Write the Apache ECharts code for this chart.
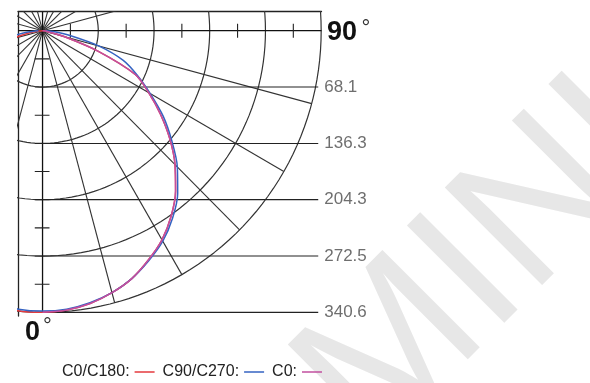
<!DOCTYPE html>
<html><head><meta charset="utf-8">
<script src="https://cdn.jsdelivr.net/npm/echarts@6/dist/echarts.min.js"></script>
<style>html,body{margin:0;padding:0;background:#fff}#c{width:590px;height:383px}</style>
</head><body><div id="c"></div>
<script>
// ---- data (intensity in cd, angle in degrees; 0 = straight down, 90 = horizontal) ----
const angles = [-90,-85,-80,-75,-70,-65,-60,-55,-50,-45,-40,-35,-30,-25,-20,-15,-10,-5,0,5,10,15,20,25,30,35,40,45,50,55,60,65,70,75,80,85,90];
const c0c180 = [0,4,18,40,80,125,150,176,203,229,253,274,292,306,319,328,335,340,340.6,339,335,328,319,306,292,274,253,229,203,176,150,125,72,28,7,2,0];
const c90c270 = [5,18,36,71,105,128,152,180,206,233,257,277,294,307,319,328,334,338,339,338,334,328,319,307,294,277,257,233,206,180,152,128,105,71,35,15,4];
const c0Angles = [0,5,10,15,20,25,30,35,40,45,50,55,60,65,70,75,80,85,90];
const c0 = [340.6,339,335,328,319,306,292,274,253,229,203,176,150,125,72,28,7,2,0];
const ringValues = [68.1,136.3,204.3,272.5,340.6];
const ringLabels = ['68.1','136.3','204.3','272.5','340.6'];
const spokeStep = 15;
const legendNames = ['C0/C180','C90/C270','C0'];
const seriesColors = ['#e53a3e','#3563c2','#c24f9f'];

// ---- view window (data units) ----
const xMin = -30, xMax = 341, yMin = -23, yMax = 345;
const rMax = ringValues[ringValues.length-1];
const FONT = 'Liberation Sans';

const toXY = (deg, v) => { const t = deg*Math.PI/180; return [v*Math.sin(t), v*Math.cos(t)]; };
function seg(points, color, width, z){
  return {type:'line', data:points, symbol:'none', silent:true, animation:false, clip:true,
          lineStyle:{color:color, width:width}, z:z||1, emphasis:{disabled:true}};
}
const series = [];
// rings
ringValues.forEach(r => { const pts=[]; for(let a=-180;a<=180;a+=2) pts.push(toXY(a,r)); series.push(seg(pts,'#333',1.2)); });
// spokes
for(let a=0;a<360;a+=spokeStep){ if(a%90!==0) series.push(seg([[0,0],toXY(a,rMax)],'#333',1.1)); }
// main axes
series.push(seg([[xMin,0],[xMax,0]],'#111',1.3));
series.push(seg([[0,yMin],[0,rMax]],'#111',1.3));
// horizontal value lines
ringValues.forEach(r => series.push(seg([[-9.5,r],[337,r]],'#222',1.1)));
// ticks at mid-ring positions
ringValues.forEach((r,i) => {
  const m = (r + (i? ringValues[i-1]:0))/2;
  series.push(seg([[m,-8.5],[m,8.5]],'#222',1.1));
  series.push(seg([[-9.5,m],[8.5,m]],'#222',1.1));
});
// value labels
series.push({type:'scatter', data: ringValues.map(r=>[337,r]), symbolSize:0, silent:true, animation:false,
  label:{show:true, position:'right', distance:6, formatter:p=>ringLabels[p.dataIndex],
         fontFamily:FONT, fontSize:17, color:'#4a4a4a'}});
// curves
const curve = (name, angs, vals, color) => ({
  type:'line', name:name, data: angs.map((a,i)=>toXY(a,vals[i])), symbol:'none', smooth:0.3,
  clip:true, animation:false, color:color, lineStyle:{color:color, width:1.5}, z:5, silent:true
});
series.push(curve(legendNames[0], angles, c0c180, seriesColors[0]));
series.push(curve(legendNames[1], angles, c90c270, seriesColors[1]));
series.push(curve(legendNames[2], c0Angles, c0, seriesColors[2]));

const chart = echarts.init(document.getElementById('c'), null, {renderer:'canvas'});
chart.setOption({
  animation:false,
  backgroundColor:'#fff',
  grid:{left:18, top:11.7, width:303.5, height:304.3, outerBoundsMode:'none'},
  xAxis:{type:'value', min:xMin, max:xMax, position:'top',
    axisLine:{show:true, onZero:false, lineStyle:{color:'#222', width:1.3}},
    axisTick:{show:false}, axisLabel:{show:false}, splitLine:{show:false}},
  yAxis:{type:'value', min:yMin, max:yMax, inverse:true, position:'left',
    axisLine:{show:true, onZero:false, lineStyle:{color:'#222', width:1.3}},
    axisTick:{show:false}, axisLabel:{show:false}, splitLine:{show:false}},
  legend:{left:57, top:359, align:'right', icon:'rect', itemWidth:20, itemHeight:1.5, itemGap:8,
    data:legendNames, formatter:n=>n+':', selectedMode:false,
    textStyle:{fontFamily:FONT, fontSize:16, color:'#222'}},
  graphic:[
    {type:'text', x:483.7, y:265.3, rotation:Math.PI/4, z:-10, silent:true,
     style:{text:'MINI', font:'200px "Liberation Sans"', fill:'#e7e7e7', textAlign:'center', textVerticalAlign:'middle'}},
    {type:'text', x:327, y:33, style:{text:'90', font:'bold 27px "Liberation Sans"', fill:'#111', textAlign:'left', textVerticalAlign:'middle'}},
    {type:'text', x:366, y:29, style:{text:'°', font:'22px "Liberation Sans"', fill:'#333', textAlign:'center', textVerticalAlign:'middle'}},
    {type:'text', x:25, y:333, style:{text:'0', font:'bold 27px "Liberation Sans"', fill:'#111', textAlign:'left', textVerticalAlign:'middle'}},
    {type:'text', x:47.5, y:327, style:{text:'°', font:'22px "Liberation Sans"', fill:'#333', textAlign:'center', textVerticalAlign:'middle'}}
  ],
  series:series
});
</script></body></html>
